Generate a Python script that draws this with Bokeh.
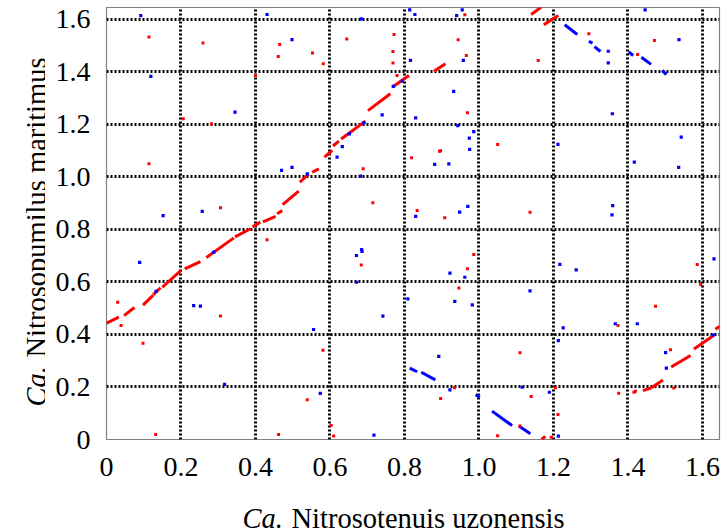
import math
from bokeh.plotting import figure
from bokeh.layouts import row, column
from bokeh.models import Range1d, FixedTicker
from bokeh.core.properties import value
from bokeh.embed import file_html
from bokeh.resources import INLINE

# ---------------- data (Mb positions) ----------------
genome_x_len = 1.6457   # Ca. Nitrosotenuis uzonensis
genome_y_len = 1.6457   # Ca. Nitrosopumilus maritimus

tick_values = [0, 0.2, 0.4, 0.6, 0.8, 1.0, 1.2, 1.4, 1.6]
tick_labels = ["0", "0.2", "0.4", "0.6", "0.8", "1.0", "1.2", "1.4", "1.6"]

# forward matches (red) as runs
red_x0 = [0.000, 0.047, 0.098, 0.125, 0.150, 0.210, 0.268, 0.345, 0.392, 0.420, 0.458, 0.473,
          0.519, 0.552, 0.585, 0.608, 0.630, 0.702, 0.767, 0.879, 1.140, 1.174, 1.168,
          1.440, 1.462, 1.516, 1.577, 1.635]
red_y0 = [0.443, 0.472, 0.512, 0.551, 0.580, 0.650, 0.693, 0.772, 0.810, 0.829, 0.860, 0.895,
          0.980, 1.018, 1.076, 1.118, 1.145, 1.253, 1.342, 1.403, 1.619, 1.580, 0.000,
          0.186, 0.196, 0.276, 0.345, 0.420]
red_x1 = [0.033, 0.075, 0.125, 0.145, 0.200, 0.252, 0.342, 0.387, 0.413, 0.454, 0.472, 0.516,
          0.543, 0.570, 0.606, 0.624, 0.695, 0.762, 0.812, 0.910, 1.170, 1.213, 1.178,
          1.462, 1.494, 1.568, 1.630, 1.645]
red_y1 = [0.466, 0.503, 0.549, 0.578, 0.644, 0.678, 0.768, 0.803, 0.828, 0.850, 0.872, 0.946,
          1.012, 1.031, 1.101, 1.137, 1.213, 1.317, 1.387, 1.431, 1.650, 1.615, 0.012,
          0.196, 0.227, 0.320, 0.396, 0.431]

# reverse matches (blue) as runs
blue_x0 = [0.814, 0.845, 0.991, 1.035, 1.107, 1.230, 1.295, 1.310, 1.402, 1.436, 1.492]
blue_y0 = [0.272, 0.256, 0.171, 0.108, 0.051, 1.580, 1.517, 1.497, 1.476, 1.456, 1.406]
blue_x1 = [0.834, 0.883, 1.002, 1.089, 1.138, 1.264, 1.305, 1.326, 1.414, 1.462, 1.503]
blue_y1 = [0.258, 0.227, 0.161, 0.053, 0.022, 1.543, 1.510, 1.478, 1.463, 1.429, 1.390]

# isolated forward hits (red)
red_dot_x = [0.114, 0.259, 0.206, 0.282, 0.114, 0.306, 0.030, 0.039, 0.098, 0.306, 0.132, 0.462,
             0.603, 0.610, 0.465, 0.461, 0.553, 0.582, 0.400, 0.645, 0.962, 0.772, 0.769, 0.769,
             0.780, 0.944, 0.966, 0.969, 1.050, 0.894, 0.897, 0.819, 0.689, 0.715, 0.834, 0.908,
             0.431, 1.295, 1.471, 1.426, 1.159, 1.137, 0.684, 0.986, 0.969, 0.946, 0.581, 0.539,
             0.934, 0.897, 1.050, 1.586, 1.595, 1.474, 1.373, 1.110, 1.514, 1.140, 1.205, 1.212,
             1.194, 1.375, 1.523, 1.110, 1.416, 1.420]
red_dot_y = [1.533, 1.510, 1.222, 1.203, 1.050, 0.883, 0.523, 0.434, 0.367, 0.470, 0.019, 0.019,
             0.053, 0.013, 1.505, 1.459, 1.472, 1.431, 1.387, 1.526, 1.618, 1.543, 1.478, 1.434,
             1.387, 1.523, 1.463, 1.245, 1.124, 1.098, 1.100, 1.073, 1.031, 0.902, 0.872, 0.845,
             0.761, 1.546, 1.520, 1.467, 1.444, 0.866, 0.665, 0.705, 0.650, 0.577, 0.340, 0.151,
             0.197, 0.156, 0.014, 0.667, 0.590, 0.508, 0.434, 0.330, 0.342, 0.164, 0.197, 0.095,
             0.009, 0.176, 0.196, 0.051, 0.180, 0.184]

# isolated reverse hits (blue)
blue_dot_x = [0.092, 0.119, 0.345, 0.152, 0.257, 0.089, 0.234, 0.252, 0.317, 0.133, 0.288, 0.718,
              0.431, 0.498, 0.684, 0.814, 0.828, 0.955, 0.940, 0.816, 0.958, 0.932, 0.740, 0.830,
              0.943, 0.986, 0.974, 0.975, 0.919, 0.881, 0.682, 0.619, 0.633, 0.652, 0.691, 0.770,
              0.794, 0.470, 0.498, 0.539, 0.830, 0.948, 0.970, 0.685, 1.446, 1.537, 1.347, 1.347,
              1.358, 1.543, 1.212, 1.417, 1.536, 1.359, 1.357, 0.671, 0.686, 0.922, 0.962, 0.671,
              0.809, 0.935, 0.982, 0.742, 0.556, 0.892, 0.574, 0.922, 1.217, 1.261, 1.631, 1.137,
              1.226, 1.366, 1.425, 1.213, 1.501, 1.503, 1.116, 1.189, 1.213, 1.630]
blue_dot_y = [1.615, 1.383, 1.247, 0.853, 0.869, 0.675, 0.510, 0.508, 0.210, 0.564, 0.714, 0.017,
              1.619, 1.523, 1.602, 1.637, 1.619, 1.637, 1.615, 1.444, 1.444, 1.326, 1.237, 1.225,
              1.196, 1.173, 1.148, 1.105, 1.050, 1.048, 1.003, 1.076, 1.116, 1.164, 1.206, 1.345,
              1.365, 1.025, 1.037, 1.012, 0.850, 0.866, 0.888, 0.723, 1.637, 1.523, 1.435, 1.479,
              1.241, 1.152, 1.124, 1.057, 1.037, 0.891, 0.856, 0.701, 0.717, 0.634, 0.618, 0.599,
              0.536, 0.526, 0.513, 0.470, 0.419, 0.317, 0.176, 0.189, 0.667, 0.646, 0.688, 0.566,
              0.425, 0.441, 0.441, 0.377, 0.331, 0.272, 0.199, 0.180, 0.013, 0.398]

x_title_italic = "Ca."
x_title_rest = "Nitrosotenuis uzonensis"
y_title_italic = "Ca."
y_title_rest = "Nitrosopumilus maritimus"

# ---------------- layout ----------------
W, H = 722, 528
FRAME_L, FRAME_R, FRAME_T, FRAME_B = 106, 719, 7, 439   # page pixels of the plot frame
YT_W = 45          # strip holding the rotated y title
XT_H = 38          # strip holding the x title
MAIN_W, MAIN_H = W - YT_W, H - XT_H
FONT = "Liberation Serif"
TITLE_SIZE = "28.5px"
RED = "#ff0000"
BLUE = "#0000ff"

p = figure(width=MAIN_W, height=MAIN_H, x_range=Range1d(0, genome_x_len), y_range=Range1d(0, genome_y_len),
           output_backend="svg", toolbar_location=None,
           min_border_left=FRAME_L - YT_W, min_border_right=W - FRAME_R,
           min_border_top=FRAME_T, min_border_bottom=MAIN_H - FRAME_B)
p.title.visible = False
p.background_fill_color = "white"
p.border_fill_color = "white"
p.outline_line_color = "#808080"
p.outline_line_width = 1.2

for ax in (p.xaxis[0], p.yaxis[0]):
    ax.ticker = FixedTicker(ticks=tick_values)
    ax.major_label_overrides = {v: s for v, s in zip(tick_values, tick_labels)}
    ax.axis_line_color = None
    ax.major_tick_line_color = None
    ax.minor_tick_line_color = None
    ax.major_tick_in = 0
    ax.major_tick_out = 0
    ax.major_label_text_font = FONT
    ax.major_label_text_font_size = "28px"
    ax.major_label_text_color = "black"
p.xaxis.major_label_standoff = 18
p.yaxis.major_label_standoff = 16

grid_ticks = [t for t in tick_values if t > 0]
for g in (p.xgrid[0], p.ygrid[0]):
    g.ticker = FixedTicker(ticks=grid_ticks)
    g.grid_line_color = "black"
    g.grid_line_width = 3
    g.grid_line_dash = "2 2"
    g.grid_line_alpha = 1.0

p.segment(red_x0, red_y0, red_x1, red_y1, line_color=RED, line_width=3)
p.segment(blue_x0, blue_y0, blue_x1, blue_y1, line_color=BLUE, line_width=3)
p.scatter(red_dot_x, red_dot_y, marker="square", size=3, fill_color=RED, line_color=None)
p.scatter(blue_dot_x, blue_dot_y, marker="square", size=3.2, fill_color=BLUE, line_color=None)


def title_strip(width, height, x_start, x_end, y_start, y_end, bl, br):
    """blank figure whose data units are page pixels (y downwards)"""
    f = figure(width=width, height=height, x_range=Range1d(x_start, x_end),
               y_range=Range1d(y_start, y_end), output_backend="svg", toolbar_location=None,
               min_border_left=bl, min_border_right=br, min_border_top=0, min_border_bottom=0)
    f.title.visible = False
    f.axis.visible = False
    f.grid.visible = False
    f.outline_line_color = None
    f.background_fill_color = "white"
    f.border_fill_color = "white"
    return f


# x-title strip: its frame is aligned with the main frame (106..719 on the page)
xt = title_strip(MAIN_W, XT_H, FRAME_L, FRAME_R, H, MAIN_H, FRAME_L - YT_W, W - FRAME_R)
xt.text(x=[242], y=[518], text=[x_title_italic], text_font=value(FONT), text_font_style="italic",
        text_font_size=TITLE_SIZE, text_align="left", text_baseline="alphabetic", text_color="black")
xt.text(x=[291], y=[518], text=[x_title_rest], text_font=value(FONT),
        text_font_size=TITLE_SIZE, text_align="left", text_baseline="alphabetic", text_color="black")

yt = title_strip(YT_W, H, 0, YT_W, H, 0, 0, 0)
yt.text(x=[36], y=[406], text=[y_title_italic], text_font=value(FONT), text_font_style="italic",
        angle=math.pi / 2, text_font_size=TITLE_SIZE, text_align="left", text_baseline="alphabetic",
        text_color="black")
yt.text(x=[36], y=[357], text=[y_title_rest], text_font=value(FONT), angle=math.pi / 2,
        text_font_size=TITLE_SIZE, text_align="left", text_baseline="alphabetic", text_color="black")

layout = row(yt, column(p, xt, spacing=0), spacing=0)

open("out.html", "w").write(file_html(layout, INLINE))
